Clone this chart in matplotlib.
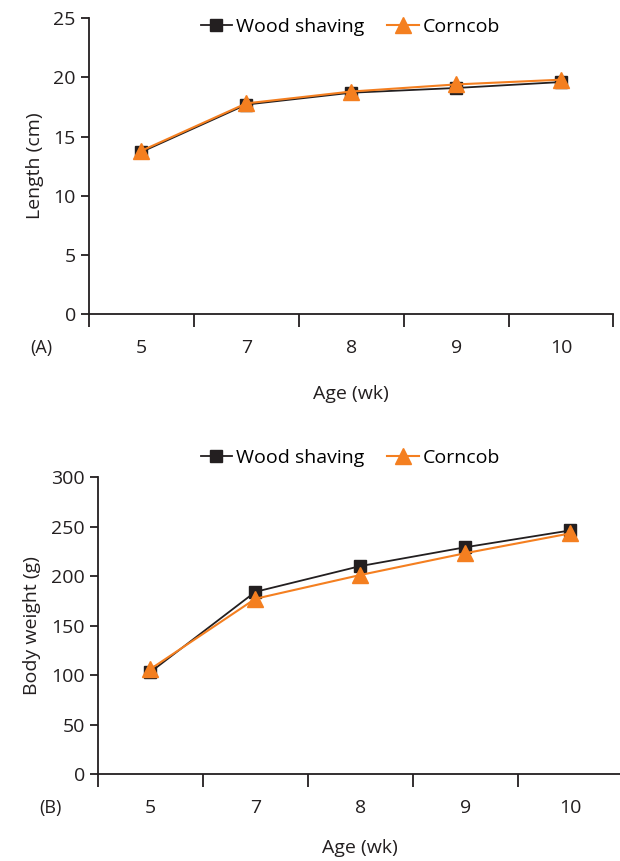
import matplotlib.pyplot as plt
from matplotlib.ticker import FixedLocator, NullFormatter

plt.rcParams['font.family'] = ['Open Sans', 'DejaVu Sans']

ages = ['5', '7', '8', '9', '10']
length_wood = [13.7, 17.7, 18.7, 19.1, 19.6]
length_corn = [13.8, 17.8, 18.8, 19.4, 19.8]
weight_wood = [103, 184, 210, 229, 246]
weight_corn = [106, 177, 201, 223, 243]

BLACK = '#231f20'
ORANGE = '#f47f20'
FS = 14


def panel(ax, wood, corn, ymax, ystep, ylabel, tag, xpad):
    x = list(range(1, len(ages) + 1))
    ax.plot(x, wood, color=BLACK, lw=1.3, marker='s', ms=8, label='Wood shaving')
    ax.plot(x, corn, color=ORANGE, lw=1.5, marker='^', ms=11, label='Corncob')
    ax.set_xlim(0.5, len(ages) + 0.5)
    ax.set_ylim(0, ymax)
    ax.set_yticks(range(0, ymax + 1, ystep))
    ax.xaxis.set_major_locator(FixedLocator([i + 0.5 for i in range(0, len(ages) + 1)]))
    ax.xaxis.set_major_formatter(NullFormatter())
    ax.xaxis.set_minor_locator(FixedLocator(x))
    ax.set_xticklabels(ages, minor=True)
    ax.tick_params(axis='x', which='minor', length=0, pad=18, labelsize=FS, colors=BLACK)
    ax.tick_params(axis='x', which='major', direction='out', length=9, width=1.3, colors=BLACK)
    ax.tick_params(axis='y', direction='out', length=6, width=1.3, labelsize=FS, colors=BLACK)
    for s in ['top', 'right']:
        ax.spines[s].set_visible(False)
    for s in ['left', 'bottom']:
        ax.spines[s].set_linewidth(1.3)
        ax.spines[s].set_color(BLACK)
    ax.set_ylabel(ylabel, fontsize=FS, color=BLACK, labelpad=7)
    ax.set_xlabel('Age (wk)', fontsize=FS, color=BLACK, labelpad=xpad)
    ax.text(-0.09, -0.115, tag, transform=ax.transAxes, fontsize=FS - 1, color=BLACK,
            ha='center', va='center')
    return ax


fig = plt.figure(figsize=(6.2, 8.61), dpi=100)
ax1 = fig.add_axes([0.1435, 0.635, 0.846, 0.344])
ax2 = fig.add_axes([0.158, 0.101, 0.846, 0.345])

panel(ax1, length_wood, length_corn, 25, 5, 'Length (cm)', '(A)', 20)
panel(ax2, weight_wood, weight_corn, 300, 50, 'Body weight (g)', '(B)', 16)

for ax, y in [(ax1, 0.969), (ax2, 0.468)]:
    fig.legend(*ax.get_legend_handles_labels(), loc='center', bbox_to_anchor=(0.565, y),
               ncol=2, frameon=False, fontsize=FS, handlelength=1.6, handletextpad=0.2,
               columnspacing=1.2, borderaxespad=0)

fig.savefig('out.png', dpi=100)
